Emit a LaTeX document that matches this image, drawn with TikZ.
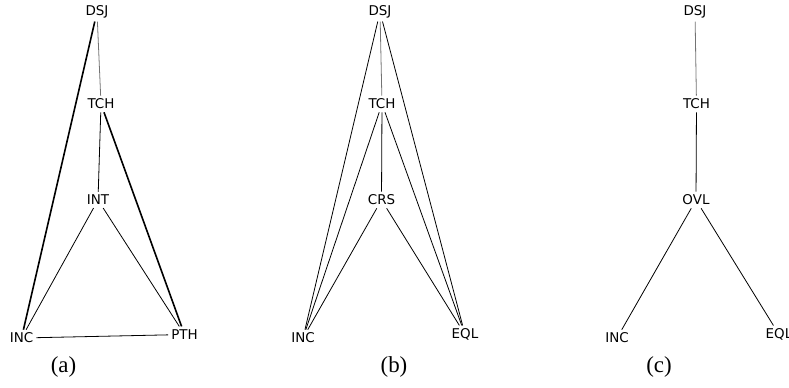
\documentclass[tikz,border=0pt]{standalone}
\usepackage{fontspec}
\usepackage{tikz}
\usetikzlibrary{arrows.meta, positioning}
\newfontfamily\relfont{DejaVu Sans}
\newfontfamily\capfont{Liberation Serif}

\begin{document}
\begin{tikzpicture}[x=1bp, y=-1bp,
    rel/.style = {font=\relfont\fontsize{13.5}{15}\selectfont, inner sep=3bp},
    subcap/.style = {font=\capfont\fontsize{23}{26}\selectfont, inner sep=0pt},
    conn/.style = {line width=0.8bp},
    heavy/.style = {line width=1.6bp},
    faint/.style = {line width=0.8bp, black!55}]
    \useasboundingbox (0,0) rectangle (789,387);

    % (a)
    \node (dsja) [rel] at (97,12) {DSJ};
    \node (tcha) [rel] at (101,104) {TCH};
    \node (inta) [rel] at (98,200) {INT};
    \node (inca) [rel] at (21.5,338) {INC};
    \node (ptha) [rel] at (184.5,334.5) {PTH};
    \node (capa) [subcap] at (63.5,367) {(a)};

    \path [conn]
      (dsja) edge [faint] (tcha)
      (dsja) edge [heavy] (inca)
      (tcha) edge (inta)
      (tcha) edge [heavy] (ptha)
      (inta) edge (inca)
      (inta) edge (ptha)
      (inca) edge (ptha);

    % (b)
    \node (dsjb) [rel] at (380,12) {DSJ};
    \node (tchb) [rel] at (382,104) {TCH};
    \node (crsb) [rel] at (381.5,200) {CRS};
    \node (incb) [rel] at (303,338) {INC};
    \node (eqlb) [rel] at (465,334.5) {EQL};
    \node (capb) [subcap] at (394,367) {(b)};

    \path [conn]
      (dsjb) edge [faint] (tchb)
      (dsjb) edge (incb)
      (dsjb) edge (eqlb)
      (tchb) edge (crsb)
      (tchb) edge (incb)
      (tchb) edge (eqlb)
      (crsb) edge (incb)
      (crsb) edge (eqlb);

    % (c)
    \node (dsjc) [rel] at (695,12) {DSJ};
    \node (tchc) [rel] at (696.5,104) {TCH};
    \node (ovlc) [rel] at (696,200) {OVL};
    \node (incc) [rel] at (617,338) {INC};
    \node (eqlc) [rel] at (779,334.5) {EQL};
    \node (capc) [subcap] at (659,367) {(c)};

    \path [conn]
      (dsjc) edge [faint] (tchc)
      (tchc) edge (ovlc)
      (ovlc) edge (incc)
      (ovlc) edge (eqlc);
\end{tikzpicture}
\end{document}
